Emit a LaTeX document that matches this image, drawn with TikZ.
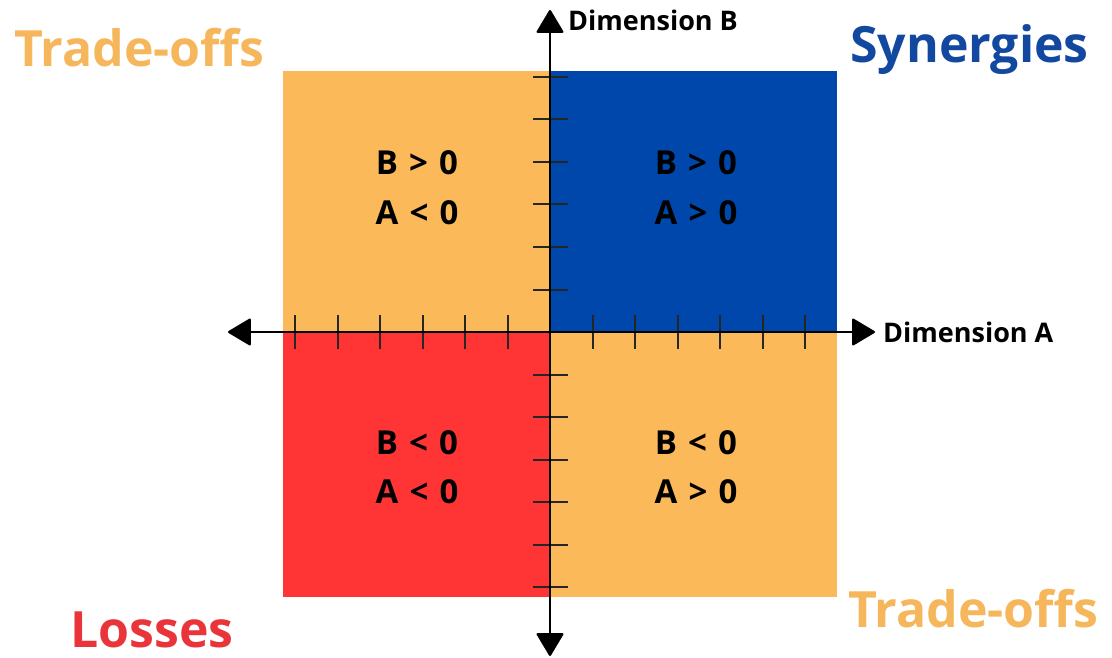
\documentclass[tikz,border=0pt]{standalone}
\usepackage{fontspec}
\setmainfont{Open Sans}
\newfontfamily\quadfont{Open Sans}[WordSpace=1.3]
\usepackage{xcolor}
\usepackage{tikz}
\usetikzlibrary{arrows.meta}
\definecolor{qorange}{RGB}{251,185,90}
\definecolor{qblue}{RGB}{0,71,171}
\definecolor{qred}{RGB}{255,52,52}
\definecolor{torange}{RGB}{246,183,92}
\definecolor{tblue}{RGB}{18,72,160}
\definecolor{tred}{RGB}{233,52,58}
\tikzset{
  quadtext/.style={anchor=base, inner sep=0pt, font=\quadfont\bfseries\fontsize{33}{33}\selectfont},
  dimlabel/.style={anchor=base west, inner sep=0pt, font=\bfseries\fontsize{27}{27}\selectfont},
  zonelabel/.style={anchor=base west, inner sep=0pt, font=\bfseries\fontsize{50}{50}\selectfont},
  axisline/.style={{Triangle[length=24pt,width=28pt,round]}-{Triangle[length=24pt,width=28pt,round]}, line width=2.2pt, line join=round},
  axistick/.style={line width=2pt, black!85}
}
\begin{document}
\begin{tikzpicture}[x=1pt,y=-1pt]
\useasboundingbox (0,0) rectangle (1112,658);
\coordinate (O) at (550,332);
\coordinate (west) at (228,332);
\coordinate (east) at (875,332);
\coordinate (north) at (550,10);
\coordinate (south) at (550,656);
\fill[qorange] (283,71) rectangle (O);
\fill[qblue] (O) rectangle (837,71);
\fill[qred] (283,597) rectangle (O);
\fill[qorange] (O) rectangle (837,597);
\foreach \k in {1,...,6} {
  \draw[axistick] (550+\k*42.5,315) -- (550+\k*42.5,349);
  \draw[axistick] (550-\k*42.5,315) -- (550-\k*42.5,349);
  \draw[axistick] (533,332+\k*42.5) -- (568,332+\k*42.5);
  \draw[axistick] (533,332-\k*42.5) -- (568,332-\k*42.5);
}
\draw[axisline] (west) -- (east);
\draw[axisline] (south) -- (north);
\node[quadtext] (tlB) at (417,175) {B > 0};
\node[quadtext] (tlA) at (417,225) {A < 0};
\node[quadtext] (trB) at (696,175) {B > 0};
\node[quadtext] (trA) at (696,225) {A > 0};
\node[quadtext] (blB) at (417,454) {B < 0};
\node[quadtext] (blA) at (417,503) {A < 0};
\node[quadtext] (brB) at (696,454) {B < 0};
\node[quadtext] (brA) at (696,503) {A > 0};
\node[dimlabel] (dimB) at (568,31) {Dimension B};
\node[dimlabel] (dimA) at (883,342) {Dimension A};
\node[zonelabel, text=torange] (tradeoffsTL) at (14,67) {Trade-offs};
\node[zonelabel, text=tblue] (synergies) at (850,63) {Synergies};
\node[zonelabel, text=torange] (tradeoffsBR) at (848,627) {Trade-offs};
\node[zonelabel, text=tred] (losses) at (70,647) {Losses};
\end{tikzpicture}
\end{document}
